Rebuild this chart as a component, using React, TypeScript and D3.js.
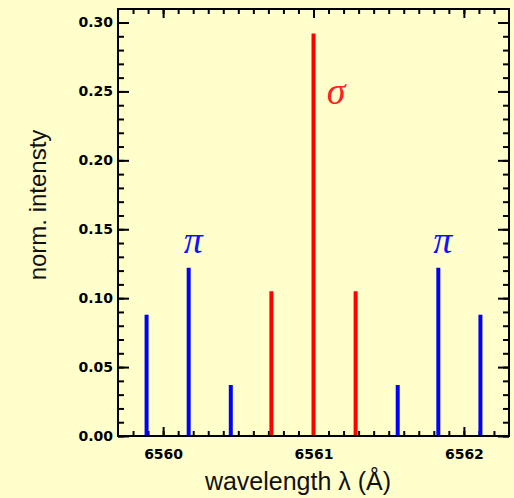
import {useEffect, useRef} from "react";
import * as d3 from "d3";

// Zeeman components of H-alpha: wavelength (Å) and normalized intensity
const piWavelengths = [6559.89, 6560.17, 6560.45, 6561.56, 6561.83, 6562.11];
const piIntensities = [0.088, 0.122, 0.037, 0.037, 0.122, 0.088];
const sigmaWavelengths = [6560.72, 6561.0, 6561.28];
const sigmaIntensities = [0.105, 0.292, 0.105];

const xTickValues = [6560, 6561, 6562];
const yTickValues = [0, 0.05, 0.1, 0.15, 0.2, 0.25, 0.3];

const labels = [
    {text: "π", x: 6560.2, y: 0.133, color: "#1010ff"},
    {text: "π", x: 6561.86, y: 0.133, color: "#1010ff"},
    {text: "σ", x: 6561.15, y: 0.241, color: "#ff2020"},
];

export default function App() {
    const ref = useRef<SVGSVGElement>(null);

    useEffect(() => {
        const width = 514, height = 498;
        const margin = {left: 118, right: 5, top: 9, bottom: 62};
        const w = width - margin.left - margin.right;
        const h = height - margin.top - margin.bottom;

        const x = d3.scaleLinear().domain([6559.7, 6562.3]).range([0, w]);
        const y = d3.scaleLinear().domain([0, 0.3098]).range([h, 0]);

        const svg = d3.select(ref.current);
        svg.selectAll("*").remove();

        svg.append("rect").attr("width", width).attr("height", height).attr("fill", "#ffffcc");

        const g = svg.append("g").attr("transform", `translate(${margin.left},${margin.top})`);

        const xMinor = d3.range(6559.8, 6562.3, 0.1);
        const yMinor = d3.range(0, 0.31, 0.01);

        const tickFont = (sel: any) => sel.selectAll("text")
            .attr("font-family", "DejaVu Sans")
            .attr("font-weight", "bold")
            .attr("font-size", 14)
            .attr("fill", "#000");
        const clean = (sel: any) => {
            sel.select(".domain").remove();
            sel.selectAll("line").attr("stroke", "#000").attr("stroke-width", 2);
        };

        // minor ticks, all four sides
        g.append("g").call(d3.axisBottom(x).tickValues(xMinor).tickSize(-5).tickFormat(() => ""))
            .attr("transform", `translate(0,${h})`).call(clean);
        g.append("g").call(d3.axisTop(x).tickValues(xMinor).tickSize(-5).tickFormat(() => "")).call(clean);
        g.append("g").call(d3.axisLeft(y).tickValues(yMinor).tickSize(-6).tickFormat(() => "")).call(clean);
        g.append("g").call(d3.axisRight(y).tickValues(yMinor).tickSize(-6).tickFormat(() => ""))
            .attr("transform", `translate(${w},0)`).call(clean);

        // major ticks with labels
        g.append("g")
            .attr("transform", `translate(0,${h})`)
            .call(d3.axisBottom(x).tickValues(xTickValues).tickSize(-9).tickPadding(13).tickFormat(d3.format("d")))
            .call(clean).call(tickFont);
        g.append("g")
            .call(d3.axisTop(x).tickValues(xTickValues).tickSize(-9).tickFormat(() => "")).call(clean);
        g.append("g")
            .call(d3.axisLeft(y).tickValues(yTickValues).tickSize(-11).tickPadding(5).tickFormat(d3.format(".2f")))
            .call(clean).call(tickFont);
        g.append("g")
            .attr("transform", `translate(${w},0)`)
            .call(d3.axisRight(y).tickValues(yTickValues).tickSize(-11).tickFormat(() => "")).call(clean);

        // spectral lines
        const pi = piWavelengths.map((wl, i) => ({wl, v: piIntensities[i]}));
        const sigma = sigmaWavelengths.map((wl, i) => ({wl, v: sigmaIntensities[i]}));

        g.selectAll(".pi").data(pi).enter().append("line")
            .attr("x1", d => x(d.wl)).attr("x2", d => x(d.wl))
            .attr("y1", y(0)).attr("y2", d => y(d.v))
            .attr("stroke", "#0000ff").attr("stroke-width", 4);
        g.selectAll(".sigma").data(sigma).enter().append("line")
            .attr("x1", d => x(d.wl)).attr("x2", d => x(d.wl))
            .attr("y1", y(0)).attr("y2", d => y(d.v))
            .attr("stroke", "#ff0000").attr("stroke-width", 4);

        // frame
        g.append("rect").attr("width", w).attr("height", h)
            .attr("fill", "none").attr("stroke", "#000").attr("stroke-width", 2);

        g.selectAll(".lbl").data(labels).enter().append("text")
            .attr("x", d => x(d.x)).attr("y", d => y(d.y))
            .attr("text-anchor", "middle")
            .attr("font-family", "Liberation Serif")
            .attr("font-style", "italic")
            .attr("font-size", 38)
            .attr("fill", d => d.color)
            .text(d => d.text);

        svg.append("text")
            .attr("x", 298).attr("y", 490)
            .attr("text-anchor", "middle")
            .attr("font-family", "Liberation Sans")
            .attr("font-size", 25)
            .attr("fill", "#111")
            .text("wavelength λ (Å)");

        svg.append("text")
            .attr("transform", "translate(46,205) rotate(-90)")
            .attr("text-anchor", "middle")
            .attr("font-family", "Liberation Sans")
            .attr("font-size", 24)
            .attr("fill", "#111")
            .text("norm. intensty");
    }, []);

    return <svg ref={ref} width={514} height={498}
                style={{position: "absolute", left: 0, top: 0, display: "block"}}/>;
}
